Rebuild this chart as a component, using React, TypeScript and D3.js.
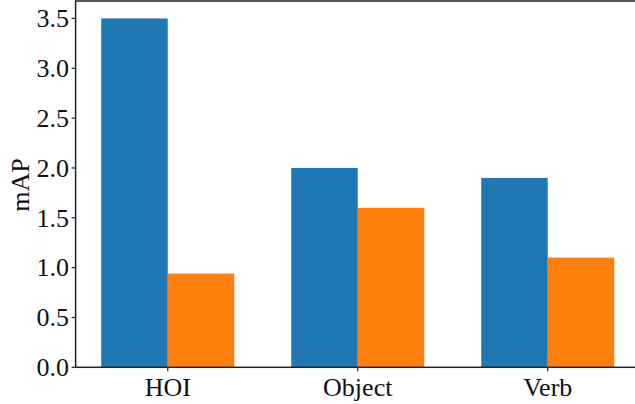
import React from "react";
import * as d3 from "d3";

const categories = ["HOI", "Object", "Verb"];
const seriesA = [3.5, 2.0, 1.9];
const seriesB = [0.94, 1.6, 1.1];
const yTicks = [0, 0.5, 1.0, 1.5, 2.0, 2.5, 3.0, 3.5];
const colors = ["#1f77b4", "#ff7f0e"];

export default function App() {
  const W = 635, H = 404;
  const left = 75.6, top = 1, bottom = 367.3;
  const x = d3.scaleLinear().domain([-0.485, 2.485]).range([left, left + 2.97 * 190]);
  const y = d3.scaleLinear().domain([0, 3.675]).range([bottom, top]);
  const bw = 0.35;
  const font = "'Liberation Serif', 'Times New Roman', serif";
  const series = [seriesA, seriesB];
  return (
    <svg width={W} height={H} style={{ position: "absolute", left: 0, top: 0 }}>
      <rect width={W} height={H} fill="white" />
      {series.map((s, si) =>
        s.map((v, i) => {
          const x0 = x(i + (si === 0 ? -bw : 0));
          const x1 = x(i + (si === 0 ? 0 : bw));
          return (
            <rect key={`${si}-${i}`} x={x0} y={y(v)} width={x1 - x0} height={bottom - y(v)} fill={colors[si]} />
          );
        })
      )}
      <rect x={left} y={top} width={x(2.485) - left} height={bottom - top} fill="none" stroke="#222" strokeWidth={1.5} />
      {yTicks.map((t) => (
        <g key={t}>
          <line x1={left - 4} x2={left} y1={y(t)} y2={y(t)} stroke="#222" strokeWidth={1.2} />
          <text x={left - 6.5} y={y(t)} dy="0.34em" textAnchor="end" fontFamily={font} fontSize={26} fill="#111">
            {t.toFixed(1)}
          </text>
        </g>
      ))}
      {categories.map((c, i) => (
        <g key={c}>
          <line x1={x(i)} x2={x(i)} y1={bottom} y2={bottom + 4} stroke="#222" strokeWidth={1.2} />
          <text x={x(i)} y={396} textAnchor="middle" fontFamily={font} fontSize={26} fill="#111">
            {c}
          </text>
        </g>
      ))}
      <text transform={`translate(29,185) rotate(-90)`} textAnchor="middle" fontFamily={font} fontSize={26} fill="#111">
        mAP
      </text>
    </svg>
  );
}
